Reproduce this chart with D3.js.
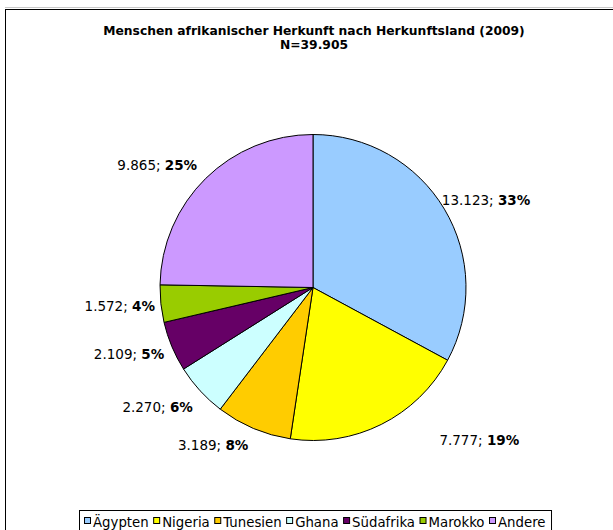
<!DOCTYPE html>
<html><head><meta charset="utf-8">
<script src="https://cdn.jsdelivr.net/npm/d3@7"></script>
<style>
html,body{margin:0;padding:0;background:#fff;}
svg{display:block;font-family:"DejaVu Sans",Verdana,sans-serif;}
</style></head>
<body>
<svg id="chart" width="613" height="530"></svg>
<script>
const categories = ["Ägypten","Nigeria","Tunesien","Ghana","Südafrika","Marokko","Andere"];
const values = [13123, 7777, 3189, 2270, 2109, 1572, 9865];
const valueLabels = ["13.123","7.777","3.189","2.270","2.109","1.572","9.865"];
const percentLabels = ["33%","19%","8%","6%","5%","4%","25%"];
const colors = ["#99CCFF","#FFFF00","#FFCC00","#CCFFFF","#660066","#99CC00","#CC99FF"];
const titleLines = ["Menschen afrikanischer Herkunft nach Herkunftsland (2009)","N=39.905"];

// layout (not data)
const W = 613, H = 530;
const cx = 313, cy = 287.5, R = 153;
const labelR = 171;
const labelNudge = [[-18,0],[50,0],[2,0],[6,4],[9,1],[12,1],[4,0]];

const svg = d3.select("#chart");
svg.append("rect").attr("width",W).attr("height",H).attr("fill","#fff");
// outer chart frame
svg.append("line").attr("x1",5).attr("x2",W).attr("y1",7.5).attr("y2",7.5).attr("stroke","#c8c8c8");
svg.append("rect").attr("x",5.5).attr("y",9.5).attr("width",W+10).attr("height",H+10)
  .attr("fill","none").attr("stroke","#000").attr("stroke-width",1);

// title
svg.append("g").selectAll("text").data(titleLines).join("text")
  .attr("x",314).attr("y",(d,i)=>35+i*13.5)
  .attr("text-anchor","middle").attr("font-weight","bold").attr("font-size","12.3px")
  .attr("fill","#000").text(d=>d);

const pie = d3.pie().sort(null).value(d=>d.v);
const data = categories.map((c,i)=>({c, v:values[i], i}));
const arcs = pie(data);
const arc = d3.arc().innerRadius(0).outerRadius(R);

const g = svg.append("g").attr("transform",`translate(${cx},${cy})`);
g.selectAll("path").data(arcs).join("path")
  .attr("d",arc).attr("fill",d=>colors[d.data.i])
  .attr("stroke","#000").attr("stroke-width",1).attr("stroke-linejoin","round");

// labels
g.selectAll("text.lab").data(arcs).join("text").attr("class","lab")
  .attr("font-size","13.5px").attr("fill","#000")
  .each(function(d){
    const a = (d.startAngle+d.endAngle)/2;
    const right = Math.sin(a) >= 0;
    const n = labelNudge[d.data.i];
    const x = labelR*Math.sin(a) + n[0];
    const y = -labelR*Math.cos(a) + n[1];
    const t = d3.select(this).attr("x",x).attr("y",y).attr("dy","0.35em")
      .attr("text-anchor", right ? "start" : "end");
    t.append("tspan").text(valueLabels[d.data.i] + "; ");
    t.append("tspan").attr("font-weight","bold").text(percentLabels[d.data.i]);
  });

// legend
const lg = svg.append("g");
const lgBox = lg.append("rect").attr("fill","#fff").attr("stroke","#000").attr("stroke-width",1);
let x = 84;
const ly = 522;
const items = lg.selectAll("g.item").data(categories).join("g").attr("class","item");
items.each(function(c,i){
  const it = d3.select(this);
  it.append("rect").attr("x",x+0.5).attr("y",ly-4.5).attr("width",6).attr("height",6)
    .attr("fill",colors[i]).attr("stroke","#000").attr("stroke-width",1);
  const t = it.append("text").attr("x",x+9).attr("y",ly).attr("dy","0.35em")
    .attr("font-size","13.3px").attr("fill","#000").text(c);
  x += 9 + t.node().getComputedTextLength() + 4.5;
});
lgBox.attr("x",79.5).attr("y",510.5).attr("width",x-79+1).attr("height",30);
</script>
</body></html>
